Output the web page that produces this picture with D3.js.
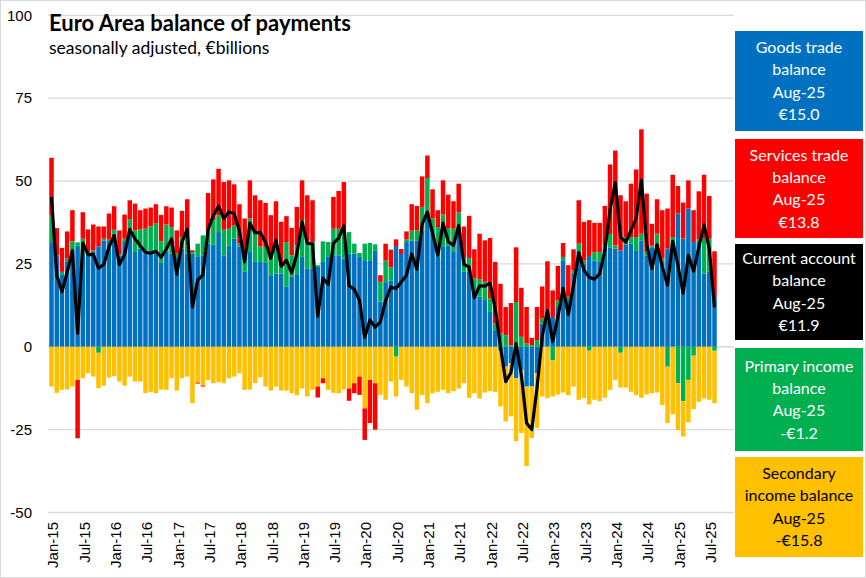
<!DOCTYPE html>
<html><head><meta charset="utf-8">
<script src="https://cdn.jsdelivr.net/npm/d3@7"></script>
<style>
html,body{margin:0;padding:0;background:#fff;}
svg{display:block;}
</style></head>
<body><svg id="chart" width="866" height="578"></svg>
<script>
// ---- data (€ billions, monthly Jan-15 .. Aug-25) ----
const goods = [
31.3,27.6,21.9,25.6,29.1,30.5,28.3,28.1,28.6,30.3,32.1,31.9,
34.1,27.6,31.6,35.1,28.6,29.6,28.1,28.8,28.1,25.3,28.6,28.1,
27.1,29.6,28.1,28.1,27.1,27.6,31.1,30.9,34.6,27.6,30.6,32.6,
30.3,22.6,28.6,25.6,25.6,25.3,21.6,22.1,22.1,18.1,21.1,21.9,
27.1,23.6,23.6,24.1,25.6,27.1,27.6,27.6,26.6,28.1,28.1,27.1,
26.1,26.1,29.1,13.6,19.5,20.0,30.4,28.0,31.6,32.0,32.1,35.1,
40.7,34.6,27.1,30.1,30.6,28.6,35.1,22.6,22.6,17.1,15.1,14.1,
10.5,5.0,-1.0,-6.0,-5.0,-9.5,-7.0,-12.0,-12.0,-8.0,7.0,8.0,
9.0,12.0,26.1,14.1,22.0,28.6,25.0,27.4,26.0,25.6,29.6,30.0,
29.6,29.1,30.9,31.1,28.9,32.1,27.6,30.0,31.1,25.6,29.6,31.0,
40.2,32.6,41.7,31.6,31.6,22.1,22.6,15.0];
const primaryIncome = [
8.4,0,0.7,1,2.7,1,4.3,0.5,0.5,-1.8,0.5,0.4,
1.2,0.3,1,3.4,6.5,5.8,7.5,7.5,9.2,6.5,8.3,8,
1,3.5,6,0.5,4,6,4,7.3,5,7.7,5,4,
0.8,6,10.1,8.5,4.7,4.8,5,9.5,2.5,13.5,6.5,8.7,
11.1,8.5,8,0.5,6.2,4.5,8,8,9,6.5,3,1.2,
5,5.2,1.8,6,6.5,4,-3,0,0.8,3,3,7.1,
10.2,4.1,9,9.8,5.2,7,5.4,4.5,4.2,3.5,5.3,5.5,
4.1,2,4,3.5,0.5,13.5,3,1,0.5,2,1.5,3,
-4,2,1,1,1,2.5,1,-1.2,2.5,3,1,4,
1,-1.8,2.2,2,4.2,2,1,0.5,3,1,-6,2.1,
-11,-16.4,-10,-2.7,0.8,10.5,10,-1.2];
const secondaryIncome = [
-12,-13.9,-13,-12.9,-12,-10,-9.5,-8,-9,-10.7,-11.7,-9.3,
-8.8,-10.5,-11.7,-9,-10.5,-10.5,-14,-13.6,-14,-12.9,-13,-9.5,
-13.2,-9.5,-9,-17,-10.8,-11.7,-10,-11,-10.7,-11,-9.5,-9,
-8,-13,-12.9,-11,-9.2,-12,-13.2,-12,-13.2,-13.2,-14,-14.6,
-12.6,-15,-13,-12,-9.5,-13,-13.9,-14,-12.9,-12.6,-11,-9,
-18.6,-10,-11,-14.5,-16,-10.5,-12,-10,-12,-14,-19,-14.6,
-17,-14,-13.6,-13,-14,-13.4,-12.6,-11,-15.4,-14,-15.6,-13.8,
-13.4,-13.6,-17,-16.5,-16,-19,-19,-24,-15.5,-16.5,-15,-15.5,
-11,-14.4,-13.8,-14.6,-12,-16,-15.5,-16.2,-16,-16.4,-15.4,-13,
-10,-10.5,-12.3,-13.6,-14.6,-15.4,-14.4,-14,-13.8,-17.6,-17,-20.4,
-14.1,-10.7,-12.8,-16.1,-16.6,-15.6,-16,-15.8];
const services = [
17.3,8.2,7.2,8.2,9.4,-17.6,8,6.8,7.8,6,3.7,7.9,
7.1,7.2,7.3,5.7,8.1,5.8,6.1,5.7,5.7,8,5.5,5.9,
7,7.9,10.4,0.5,-0.3,-0.3,11.3,12.3,14.1,14.4,14.6,12.4,
11.9,10.1,11.5,11.6,13.9,13.3,13.1,12.3,13.1,7.8,8.3,11.6,
12,13.6,12.6,-3.3,-1.5,0,9.6,11.4,14.1,-3.7,-3,-5.5,
-9.5,-13,-14,2,5.1,5.3,2,1.5,2.4,8,7.4,9.2,
6.8,8.8,5.1,10.3,10.1,8.3,8.7,9.2,12.7,8.8,13.7,12.5,
18.2,18.6,15,8.5,12.7,16.5,14.8,11,2.2,10,9.7,14.8,
8,10.4,4.2,9.5,6.4,13.1,11.7,10.8,8.9,8.8,11.9,21,
28.6,16.6,10.8,16.1,20.4,31.5,17.6,6.6,10.4,14.6,12.1,18.8,
8.3,10.9,8.5,9.6,14.5,19.3,12.9,13.8];
const currentAccount = [
45.2,21.6,16.6,22.5,29,4,31.3,27.8,27.9,23.7,24.8,30,
33.6,24.8,27.8,35.4,32.6,30.5,28.5,28.2,28.8,27,29.5,32.5,
21.9,31.6,35.5,12,20.1,21.7,35.5,39.6,42.4,38.7,40.7,40.1,
35,25.6,37.3,34.4,34.5,31.5,26.7,32.3,24.3,26.1,22.3,28,
37.7,31.2,31,9.2,20.7,18.8,31.2,32.8,36.5,18.4,17.3,14,
2.8,8.1,5.9,7.5,14,18,17.6,19.5,21.6,28,23.4,37,
40.6,34.2,27.6,37.3,31.7,30.6,36.6,24.8,24.1,14.8,18.4,18.3,
19.2,11.5,0,-10.5,-7.8,1,-8.5,-23,-25,-12.5,3.2,11,
1.5,9,17.6,9.7,18.6,28.4,23.1,21,20.4,22,29,41.5,
49.5,33.1,31.6,35,38.9,50.2,31.1,23.6,30.8,24.1,18.6,31.8,
24.5,16.1,27.6,22.8,30.1,36.8,29.6,11.9];
const yTicks = [-50,-25,0,25,50,75,100];
const xTickLabels = ["Jan-15","Jul-15","Jan-16","Jul-16","Jan-17","Jul-17","Jan-18","Jul-18","Jan-19","Jul-19","Jan-20","Jul-20","Jan-21","Jul-21","Jan-22","Jul-22","Jan-23","Jul-23","Jan-24","Jul-24","Jan-25","Jul-25"];
const seriesKeys = ["goods","primary","secondary","services"];
const seriesColors = {goods:"#0070C0",primary:"#00B050",secondary:"#FFC000",services:"#FF0000"};
const titleText = "Euro Area balance of payments";
const subtitleText = "seasonally adjusted, €billions";
const legendItems = [
  {name:["Goods trade","balance"], data:goods, fill:"#0070C0", text:"#fff"},
  {name:["Services trade","balance"], data:services, fill:"#FF0000", text:"#fff"},
  {name:["Current account","balance"], data:currentAccount, fill:"#000000", text:"#fff"},
  {name:["Primary income","balance"], data:primaryIncome, fill:"#00B050", text:"#fff"},
  {name:["Secondary","income balance"], data:secondaryIncome, fill:"#FFC000", text:"#000"}
];

// ---- build ----
const fmtMonth = d3.timeFormat("%b-%y");
const months = d3.timeMonth.range(new Date(2015,0,1), new Date(2015,0+goods.length,1)).map(fmtMonth);
const rows = months.map((m,i)=>({month:m, goods:goods[i], primary:primaryIncome[i], secondary:secondaryIncome[i], services:services[i], current:currentAccount[i]}));

const svg = d3.select("#chart");
const font = "'Liberation Sans', Arial, sans-serif";
const font2 = "Lato, 'Open Sans', sans-serif";

svg.append("rect").attr("x",0.5).attr("y",0.5).attr("width",865).attr("height",577)
  .attr("fill","#fff").attr("stroke","#d9d9d9");

const x = d3.scaleBand().domain(months).range([48.9, 717.1]).paddingInner(0.14).paddingOuter(0.07);
const y = d3.scaleLinear().domain([-50,100]).range([512.5, 15.3]);

// gridlines
svg.append("g").selectAll("line").data(yTicks).join("line")
  .attr("x1",48).attr("x2",734)
  .attr("y1",d=>y(d)).attr("y2",d=>y(d))
  .attr("stroke","#d9d9d9").attr("stroke-width",1.3);

// y labels
svg.append("g").selectAll("text").data(yTicks).join("text")
  .attr("x",32).attr("y",d=>y(d)).attr("dy","0.35em")
  .attr("text-anchor","end").attr("font-family",font).attr("font-size",15)
  .attr("fill","#000").text(d=>d);

// stacked bars
const stack = d3.stack().keys(seriesKeys).offset(d3.stackOffsetDiverging);
const stacked = stack(rows);
const gBars = svg.append("g");
stacked.forEach(s=>{
  gBars.append("g").attr("fill",seriesColors[s.key]).selectAll("rect").data(s).join("rect")
    .attr("x",d=>x(d.data.month)).attr("width",x.bandwidth())
    .attr("y",d=>y(Math.max(d[0],d[1])))
    .attr("height",d=>Math.abs(y(d[0])-y(d[1])));
});

// current account line
const line = d3.line().x(d=>x(d.month)+x.bandwidth()/2).y(d=>y(d.current));
svg.append("path").datum(rows).attr("d",line).attr("fill","none")
  .attr("stroke","#000").attr("stroke-width",3.2).attr("stroke-linejoin","round");

// x labels
const gx = svg.append("g");
xTickLabels.forEach(lbl=>{
  const cx = x(lbl)+x.bandwidth()/2+1.5;
  gx.append("text").attr("transform",`translate(${cx},522) rotate(-90)`)
    .attr("text-anchor","end").attr("dy","0.35em")
    .attr("font-family",font).attr("font-size",15).attr("fill","#000").text(lbl);
});

// title
svg.append("text").attr("x",49).attr("y",31).attr("font-family",font2).attr("font-weight","bold")
  .attr("font-size",22).attr("fill","#000").text(titleText);
svg.append("text").attr("x",49).attr("y",54).attr("font-family",font2)
  .attr("font-size",17.5).attr("fill","#000").text(subtitleText);

// legend boxes
const boxY = [[31,131],[139,238],[244,340],[348,451],[457,557]];
const lastLabel = months[months.length-1];
legendItems.forEach((it,i)=>{
  const [y0,y1] = boxY[i];
  svg.append("rect").attr("x",735).attr("y",y0).attr("width",128).attr("height",y1-y0).attr("fill",it.fill);
  const v = it.data[it.data.length-1];
  const vs = (v<0?"-€":"€")+Math.abs(v).toFixed(1);
  const lines = [...it.name, lastLabel, vs];
  const cy = (y0+y1)/2, step = 22.3;
  lines.forEach((t,j)=>{
    svg.append("text").attr("x",799).attr("y",cy+(j-1.5)*step).attr("dy","0.35em")
      .attr("text-anchor","middle").attr("font-family",font2).attr("font-size",16)
      .attr("fill",it.text).text(t);
  });
});
</script></body></html>
